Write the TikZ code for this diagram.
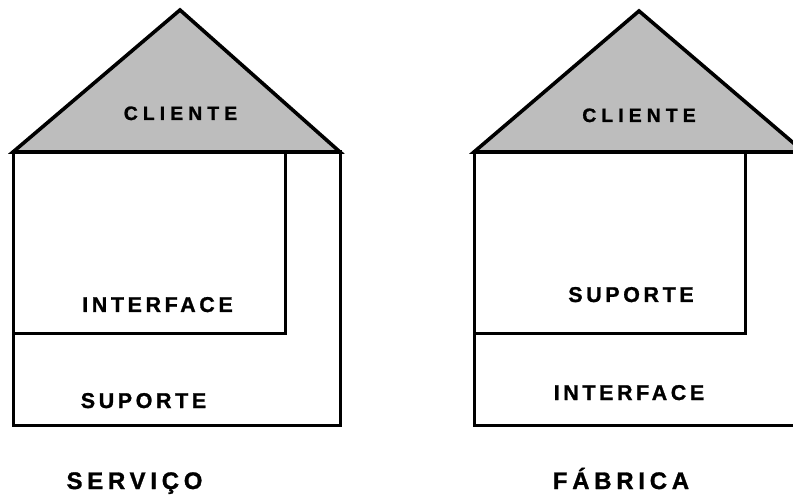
\documentclass[tikz,border=0pt]{standalone}
\usepackage{fontspec}
\usetikzlibrary{positioning,calc}
\newfontfamily\housefont{Liberation Sans}
\tikzset{roof/.style={draw=black, fill=black!26, line width=3.6bp, line join=miter},
  wall/.style={-, line width=3bp, line cap=rect},
  roofname/.style={inner sep=0pt, anchor=base,
    font=\housefont\bfseries\fontsize{19.5}{19.5}\selectfont\addfontfeature{LetterSpace=26,FakeBold=1.2}},
  layer/.style={inner sep=0pt, anchor=base,
    font=\housefont\bfseries\fontsize{21.5}{21.5}\selectfont\addfontfeature{LetterSpace=17,FakeBold=1.2}},
  title/.style={inner sep=0pt, anchor=base,
    font=\housefont\bfseries\fontsize{24}{24}\selectfont\addfontfeature{LetterSpace=20,FakeBold=1.2}}
}

\begin{document}
\begin{tikzpicture}[x=1bp, y=-1bp]

   \clip (0,0) rectangle (793,495);

   %Servico house corners
   \coordinate (S-apex) at (180,10);
   \coordinate (S-nw) at (13,152);
   \coordinate (S-ne) at (340,152);
   \coordinate (S-sw) at (13,425);
   \coordinate (S-se) at (340,425);
   \coordinate (S-in) at (285,333);

   %Fabrica house corners (right side runs off the page)
   \coordinate (F-apex) at (639,11);
   \coordinate (F-nw) at (474,152);
   \coordinate (F-ne) at (804,152);
   \coordinate (F-sw) at (474,425);
   \coordinate (F-se) at (804,425);
   \coordinate (F-in) at (745,333);

   %Servico house
   \draw[roof] (S-nw) -- (S-apex) -- (S-ne) -- cycle;
   \draw[wall] (S-nw) -- (S-sw) -- (S-se) -- (S-ne);
   \draw[wall] (S-nw |- S-in) -- (S-in) -- (S-in |- S-nw);

   %Fabrica house
   \draw[roof] (F-nw) -- (F-apex) -- (F-ne) -- cycle;
   \draw[wall] (F-nw) -- (F-sw) -- (F-se);
   \draw[wall] (F-nw |- F-in) -- (F-in) -- (F-in |- F-nw);

   %Servico labels
   \node (Cliente-S) [roofname] at (180.5,120) {CLIENTE};
   \node (Interface-S) [layer] at (157.5,312) {INTERFACE};
   \node (Suporte-S) [layer] at (143.5,408) {SUPORTE};
   \node (Servico) [title] at (134.5,489) {SERVIÇO};

   %Fabrica labels
   \node (Cliente-F) [roofname] at (639,122) {CLIENTE};
   \node (Suporte-F) [layer] at (631,302) {SUPORTE};
   \node (Interface-F) [layer] at (629,400) {INTERFACE};
   \node (Fabrica) [title] at (621,489) {FÁBRICA};

\end{tikzpicture}
\end{document}
